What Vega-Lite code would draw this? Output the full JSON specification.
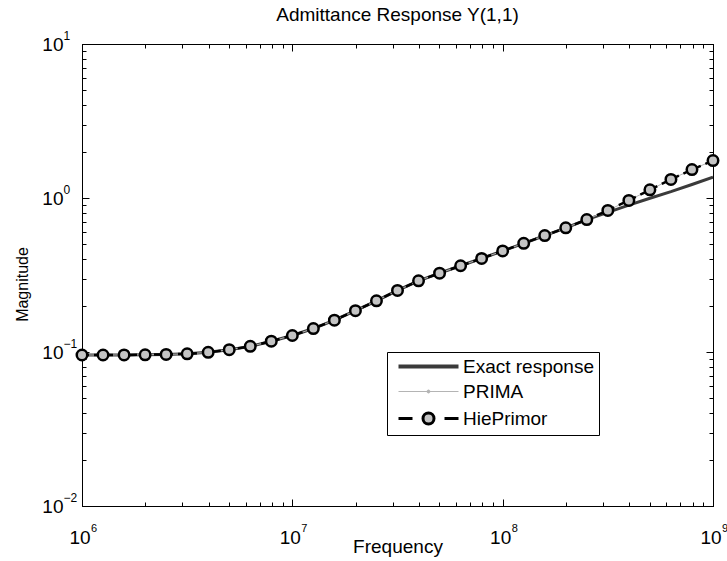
{
  "$schema": "https://vega.github.io/schema/vega-lite/v6.json",
  "width": 631,
  "height": 462,
  "autosize": {"type": "none"},
  "padding": {"left": 82, "top": 44, "right": 14, "bottom": 55},
  "background": "white",
  "title": {"text": "Admittance Response Y(1,1)", "font": "Liberation Sans", "fontSize": 19, "fontWeight": "normal", "color": "black", "anchor": "middle", "offset": 4},
  "config": {
    "view": {"stroke": "black", "strokeWidth": 1},
    "axis": {"grid": false, "domainColor": "black", "tickColor": "black", "labelColor": "black", "titleColor": "black", "labelFont": "Liberation Sans", "titleFont": "Liberation Sans", "labelFontSize": 19, "titleFontSize": 19, "titleFontWeight": "normal", "labelFlush": false, "labelOverlap": false, "tickWidth": 1}
  },
  "data": {"values": [
    {"f": 1000000, "Exact response": 0.0956, "PRIMA": 0.0956, "HiePrimor": 0.0956},
    {"f": 1258925, "Exact response": 0.0956, "PRIMA": 0.0956, "HiePrimor": 0.0956},
    {"f": 1584893, "Exact response": 0.0957, "PRIMA": 0.0957, "HiePrimor": 0.0957},
    {"f": 1995262, "Exact response": 0.0959, "PRIMA": 0.0959, "HiePrimor": 0.0959},
    {"f": 2511886, "Exact response": 0.0965, "PRIMA": 0.0965, "HiePrimor": 0.0965},
    {"f": 3162278, "Exact response": 0.0973, "PRIMA": 0.0973, "HiePrimor": 0.0973},
    {"f": 3981072, "Exact response": 0.0995, "PRIMA": 0.0995, "HiePrimor": 0.0995},
    {"f": 5011872, "Exact response": 0.1035, "PRIMA": 0.1035, "HiePrimor": 0.1035},
    {"f": 6309573, "Exact response": 0.1088, "PRIMA": 0.1088, "HiePrimor": 0.1088},
    {"f": 7943282, "Exact response": 0.1175, "PRIMA": 0.1175, "HiePrimor": 0.1175},
    {"f": 10000000, "Exact response": 0.128, "PRIMA": 0.128, "HiePrimor": 0.128},
    {"f": 12589254, "Exact response": 0.142, "PRIMA": 0.142, "HiePrimor": 0.142},
    {"f": 15848932, "Exact response": 0.161, "PRIMA": 0.161, "HiePrimor": 0.161},
    {"f": 19952623, "Exact response": 0.1855, "PRIMA": 0.1855, "HiePrimor": 0.1855},
    {"f": 25118864, "Exact response": 0.215, "PRIMA": 0.215, "HiePrimor": 0.215},
    {"f": 31622777, "Exact response": 0.251, "PRIMA": 0.251, "HiePrimor": 0.251},
    {"f": 39810717, "Exact response": 0.29, "PRIMA": 0.29, "HiePrimor": 0.29},
    {"f": 50118723, "Exact response": 0.325, "PRIMA": 0.325, "HiePrimor": 0.325},
    {"f": 63095734, "Exact response": 0.363, "PRIMA": 0.363, "HiePrimor": 0.363},
    {"f": 79432823, "Exact response": 0.405, "PRIMA": 0.405, "HiePrimor": 0.405},
    {"f": 100000000, "Exact response": 0.453, "PRIMA": 0.453, "HiePrimor": 0.453},
    {"f": 125892541, "Exact response": 0.508, "PRIMA": 0.508, "HiePrimor": 0.508},
    {"f": 158489319, "Exact response": 0.57, "PRIMA": 0.57, "HiePrimor": 0.57},
    {"f": 199526231, "Exact response": 0.64, "PRIMA": 0.64, "HiePrimor": 0.64},
    {"f": 251188643, "Exact response": 0.724, "PRIMA": 0.724, "HiePrimor": 0.724},
    {"f": 316227766, "Exact response": 0.806, "PRIMA": 0.83, "HiePrimor": 0.83},
    {"f": 398107171, "Exact response": 0.898, "PRIMA": 0.965, "HiePrimor": 0.965},
    {"f": 501187234, "Exact response": 0.996, "PRIMA": 1.13, "HiePrimor": 1.13},
    {"f": 630957344, "Exact response": 1.099, "PRIMA": 1.32, "HiePrimor": 1.32},
    {"f": 794328235, "Exact response": 1.224, "PRIMA": 1.53, "HiePrimor": 1.53},
    {"f": 1000000000, "Exact response": 1.363, "PRIMA": 1.75, "HiePrimor": 1.75}
  ]},
  "transform": [{"fold": ["Exact response", "PRIMA", "HiePrimor"], "as": ["series", "mag"]}],
  "resolve": {"axis": {"x": "independent", "y": "independent"}},
  "layer": [
    {
      "transform": [{"filter": "datum.series == 'Exact response'"}],
      "mark": {"type": "line", "strokeWidth": 3, "clip": true},
      "encoding": {
        "x": {"field": "f", "type": "quantitative", "scale": {"type": "log", "domain": [1000000, 1000000000], "nice": false},
          "axis": {"orient": "bottom", "title": "Frequency", "titlePadding": -13, "labelPadding": 29, "labelOffset": -2.5,
            "values": [1000000,2000000,3000000,4000000,5000000,6000000,7000000,8000000,9000000,10000000,20000000,30000000,40000000,50000000,60000000,70000000,80000000,90000000,100000000,200000000,300000000,400000000,500000000,600000000,700000000,800000000,900000000,1000000000],
            "labelExpr": "datum.value==1e6||datum.value==1e7||datum.value==1e8||datum.value==1e9?'10':''",
            "tickSize": {"condition": {"test": "datum.value==1e6||datum.value==1e7||datum.value==1e8||datum.value==1e9", "value": -7}, "value": -4}}},
        "y": {"field": "mag", "type": "quantitative", "scale": {"type": "log", "domain": [0.01, 10], "nice": false},
          "axis": {"orient": "left", "title": "Magnitude", "titleFontSize": 16, "titlePadding": 11, "titleY": 240, "labelPadding": 26,
            "values": [0.01,0.02,0.03,0.04,0.05,0.06,0.07,0.08,0.09,0.1,0.2,0.3,0.4,0.5,0.6,0.7,0.8,0.9,1,2,3,4,5,6,7,8,9,10],
            "labelExpr": "datum.value==0.01||datum.value==0.1||datum.value==1||datum.value==10?'10':''",
            "tickSize": {"condition": {"test": "datum.value==0.01||datum.value==0.1||datum.value==1||datum.value==10", "value": -7}, "value": -4}}},
        "color": {"field": "series", "type": "nominal",
          "scale": {"domain": ["Exact response", "PRIMA", "HiePrimor"], "range": ["#3a3a3a", "#b4b4b4", "#000000"]},
          "legend": {"orient": "none", "legendX": 305, "legendY": 308, "title": null,
            "fillColor": "white", "strokeColor": "black", "padding": 5,
            "labelFont": "Liberation Sans", "labelFontSize": 19, "labelColor": "black",
            "symbolSize": 400, "symbolStrokeWidth": 2, "symbolOffset": 27, "labelOffset": 25, "rowPadding": 5,
            "encode": {"symbols": {"update": {
              "shape": {"signal": "datum.value=='HiePrimor' ? 'M-3,0H-1.6M0.55,0A0.55,0.55 0 1 1 -0.55,0A0.55,0.55 0 1 1 0.55,0M1.6,0H3' : datum.value=='PRIMA' ? 'M-3,0H3M0.15,0A0.15,0.15 0 1 1 -0.15,0A0.15,0.15 0 1 1 0.15,0' : 'M-3,0H3'"},
              "stroke": {"signal": "datum.value=='HiePrimor' ? '#000000' : datum.value=='PRIMA' ? '#b4b4b4' : '#3a3a3a'"},
              "fill": {"signal": "datum.value=='HiePrimor' ? '#c4c4c4' : datum.value=='PRIMA' ? '#b4b4b4' : 'transparent'"},
              "strokeWidth": {"signal": "datum.value=='HiePrimor' ? 3 : datum.value=='PRIMA' ? 1 : 4"},
              "opacity": {"value": 1},
              "strokeDash": {"value": []}
            }}}}}
      }
    },
    {
      "transform": [{"filter": "datum.series == 'PRIMA'"}],
      "mark": {"type": "line", "strokeWidth": 1, "color": "#b4b4b4", "clip": true},
      "encoding": {
        "x": {"field": "f", "type": "quantitative",
          "axis": {"orient": "top", "title": null, "labels": false,
            "values": [1000000,2000000,3000000,4000000,5000000,6000000,7000000,8000000,9000000,10000000,20000000,30000000,40000000,50000000,60000000,70000000,80000000,90000000,100000000,200000000,300000000,400000000,500000000,600000000,700000000,800000000,900000000,1000000000],
            "tickSize": {"condition": {"test": "datum.value==1e6||datum.value==1e7||datum.value==1e8||datum.value==1e9", "value": -7}, "value": -4}}},
        "y": {"field": "mag", "type": "quantitative",
          "axis": {"orient": "right", "title": null, "labels": false,
            "values": [0.01,0.02,0.03,0.04,0.05,0.06,0.07,0.08,0.09,0.1,0.2,0.3,0.4,0.5,0.6,0.7,0.8,0.9,1,2,3,4,5,6,7,8,9,10],
            "tickSize": {"condition": {"test": "datum.value==0.01||datum.value==0.1||datum.value==1||datum.value==10", "value": -7}, "value": -4}}}
      }
    },
    {
      "transform": [{"filter": "datum.series == 'PRIMA'"}],
      "mark": {"type": "circle", "size": 5, "color": "#a0a0a0", "opacity": 1},
      "encoding": {
        "x": {"field": "f", "type": "quantitative",
          "axis": {"orient": "bottom", "title": null, "domain": false, "ticks": false, "tickSize": 0, "labelPadding": 16, "labelOffset": 8.5, "labelAlign": "left", "labelBaseline": "top", "labelFontSize": 11,
            "values": [1000000, 10000000, 100000000, 1000000000],
            "labelExpr": "datum.value==1e6?'6':datum.value==1e7?'7':datum.value==1e8?'8':'9'"}},
        "y": {"field": "mag", "type": "quantitative",
          "axis": {"orient": "left", "title": null, "domain": false, "ticks": false, "tickSize": 0, "labelPadding": 19, "labelOffset": -9, "labelAlign": "left", "labelBaseline": "middle", "labelFontSize": 12,
            "values": [0.01, 0.1, 1, 10],
            "labelExpr": "datum.value==0.01?'−2':datum.value==0.1?'−1':datum.value==1?'0':'1'"}}
      }
    },
    {
      "transform": [{"filter": "datum.series == 'HiePrimor'"}],
      "mark": {"type": "line", "strokeWidth": 2.5, "color": "#000000", "strokeDash": [7, 5], "clip": true},
      "encoding": {
        "x": {"field": "f", "type": "quantitative", "axis": null},
        "y": {"field": "mag", "type": "quantitative", "axis": null}
      }
    },
    {
      "transform": [{"filter": "datum.series == 'HiePrimor'"}],
      "mark": {"type": "point", "shape": "circle", "size": 110, "filled": false, "fill": "#c4c4c4", "fillOpacity": 1, "stroke": "#000000", "strokeWidth": 2.5, "opacity": 1},
      "encoding": {
        "x": {"field": "f", "type": "quantitative", "axis": null},
        "y": {"field": "mag", "type": "quantitative", "axis": null}
      }
    }
  ]
}
